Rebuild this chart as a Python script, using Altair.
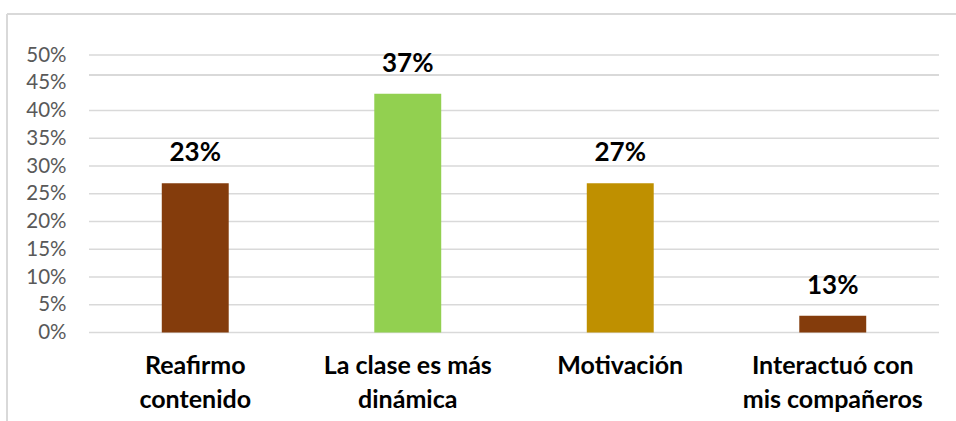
import altair as alt
import pandas as pd

categories = ["Reafirmo\ncontenido", "La clase es más\ndinámica", "Motivación", "Interactuó con\nmis compañeros"]
bar_heights = [26.9, 43.0, 26.9, 3.0]
bar_labels = ["23%", "37%", "27%", "13%"]
bar_colors = ["#843C0C", "#92D050", "#BF9000", "#843C0C"]
y_ticks = [0, 5, 10, 15, 20, 25, 30, 35, 40, 45, 50]
grid_values = [0, 5, 10, 15, 20, 25, 30, 35, 40, 46.4, 50]
grid_widths = [1.3, 1.3, 1.3, 1.3, 1.3, 1.3, 1.3, 1.3, 1.3, 2.2, 1.3]

df = pd.DataFrame({"cat": categories, "val": bar_heights, "lab": bar_labels, "col": bar_colors})
gdf = pd.DataFrame({"g": grid_values, "w": grid_widths})

W, H = 850, 277.5

yscale = alt.Scale(domain=[0, 50], nice=False, zero=True)
xscale = alt.Scale(domain=categories, paddingInner=0.685, paddingOuter=0.3425)

yaxis = alt.Axis(values=y_ticks, labelExpr="datum.value + '%'", grid=False,
                 ticks=False, domain=False, labelFont="Lato", labelFontSize=20.5,
                 labelColor="#595959", labelPadding=23)
xaxis = alt.Axis(labelExpr="split(datum.label, '\\n')", labelAngle=0,
                 labelFont="Lato", labelFontSize=25, labelFontWeight="bold",
                 labelColor="#000000", labelLineHeight=34, labelPadding=21,
                 labelLimit=0, ticks=False, domain=False, labelBaseline="top")

grid = alt.Chart(gdf).mark_rule(color="#D9D9D9").encode(
    y=alt.Y("g:Q", scale=yscale, axis=yaxis, title=None),
    strokeWidth=alt.StrokeWidth("w:Q", scale=None, legend=None),
    x=alt.value(0), x2=alt.value(W),
)

bars = alt.Chart(df).mark_bar().encode(
    x=alt.X("cat:N", scale=xscale, sort=categories, title=None, axis=xaxis),
    y=alt.Y("val:Q", scale=yscale, title=None, axis=yaxis),
    color=alt.Color("col:N", scale=None, legend=None),
)

text = alt.Chart(df).mark_text(font="Lato", fontSize=26, fontWeight="bold", color="#000000",
                               baseline="middle", dy=-30).encode(
    x=alt.X("cat:N", scale=xscale, sort=categories, axis=xaxis, title=None),
    y=alt.Y("val:Q", scale=yscale, axis=yaxis, title=None),
    text="lab:N",
)

frame = alt.Chart(df).mark_rule(color="#D9D9D9", strokeWidth=2).encode(
    x=alt.value(-82), x2=alt.value(W + 40), y=alt.value(-41)
)
frame2 = alt.Chart(df).mark_rule(color="#D9D9D9", strokeWidth=2).encode(
    x=alt.value(-82), y=alt.value(-41), y2=alt.value(H + 100)
)

chart = alt.layer(grid, bars, text, frame, frame2).properties(
    width=W, height=H,
    background="#FFFFFF",
    autosize=alt.AutoSizeParams(type="none"),
    padding={"left": 89, "top": 55, "right": 17, "bottom": 88},
).configure_view(stroke=None)

chart.save("out.html", embed_options={"renderer": "svg", "actions": False})
